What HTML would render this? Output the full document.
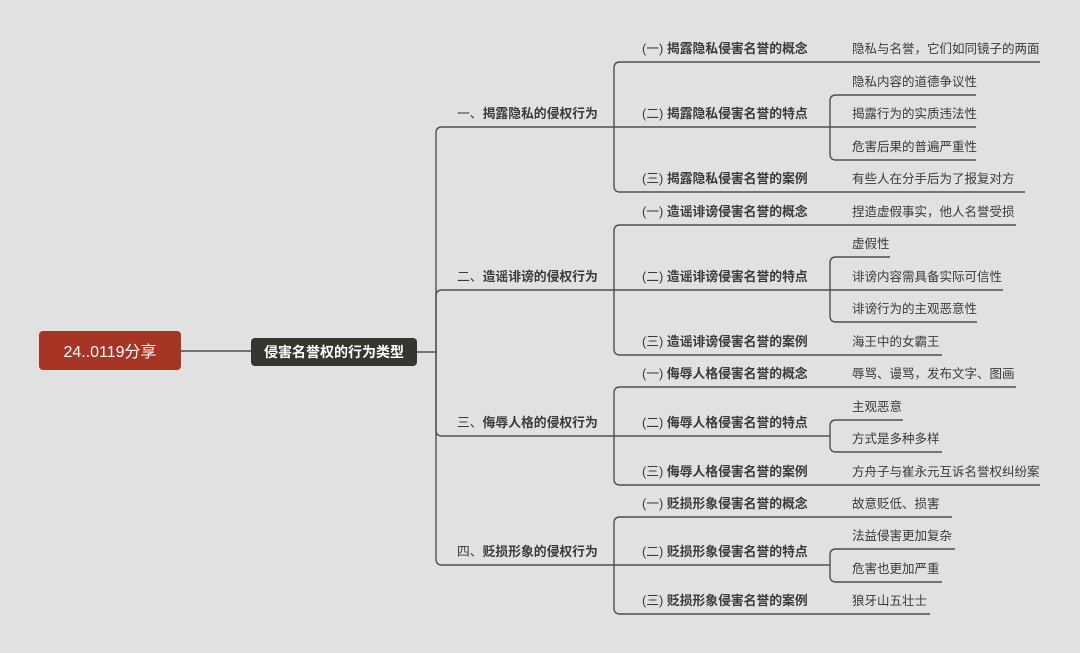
<!DOCTYPE html>
<html><head><meta charset="utf-8"><style>
html,body{margin:0;padding:0;background:#e1e1e1;}
svg{display:block;font-family:"Liberation Sans","Noto Sans CJK SC",sans-serif;}
.l1,.l2{font-size:12.8px;fill:#3a3a3a;}
.b{font-weight:bold;}
.l3{font-size:12.5px;fill:#3a3a3a;}
path{fill:none;stroke:#505050;stroke-width:1.4;}
</style></head><body>
<svg width="1080" height="653" viewBox="0 0 1080 653">
<rect width="1080" height="653" fill="#e1e1e1"/>
<path d="M181 351 H251"/>
<path d="M417 352 H436"/>
<path d="M436 352 V133 Q436 127 442 127 H614"/>
<path d="M436 352 V296 Q436 290 442 290 H614"/>
<path d="M436 352 V430 Q436 436 442 436 H614"/>
<path d="M436 352 V559 Q436 565 442 565 H614"/>
<path d="M614 127 V68 Q614 62 620 62 H1040"/>
<path d="M614 127 H830"/>
<path d="M614 127 V186 Q614 192 620 192 H1025"/>
<path d="M830 127 V101 Q830 95 836 95 H976"/>
<path d="M830 127 H976"/>
<path d="M830 127 V154 Q830 160 836 160 H976"/>
<path d="M614 290 V231 Q614 225 620 225 H1016"/>
<path d="M614 290 H830"/>
<path d="M614 290 V349 Q614 355 620 355 H942"/>
<path d="M830 290 V263 Q830 257 836 257 H890"/>
<path d="M830 290 H1003"/>
<path d="M830 290 V316 Q830 322 836 322 H977"/>
<path d="M614 436 V393 Q614 387 620 387 H1016"/>
<path d="M614 436 H830"/>
<path d="M614 436 V479 Q614 485 620 485 H1040"/>
<path d="M830 436 V426 Q830 420 836 420 H903"/>
<path d="M830 436 V446 Q830 452 836 452 H942"/>
<path d="M614 565 V523 Q614 517 620 517 H952"/>
<path d="M614 565 H830"/>
<path d="M614 565 V608 Q614 614 620 614 H930"/>
<path d="M830 565 V555 Q830 549 836 549 H955"/>
<path d="M830 565 V576 Q830 582 836 582 H942"/>

<rect x="39" y="331" width="142" height="39" rx="4" fill="#a63526"/>
<text x="110" y="357" text-anchor="middle" font-size="16" fill="#fff">24..0119分享</text>
<rect x="251" y="338" width="166" height="28" rx="4" fill="#363631"/>
<text x="334" y="357" text-anchor="middle" font-size="14" font-weight="bold" fill="#fff">侵害名誉权的行为类型</text>

<text class="l1" x="457" y="118">一、<tspan class="b">揭露隐私的侵权行为</tspan></text>
<text class="l1" x="457" y="281">二、<tspan class="b">造谣诽谤的侵权行为</tspan></text>
<text class="l1" x="457" y="427">三、<tspan class="b">侮辱人格的侵权行为</tspan></text>
<text class="l1" x="457" y="556">四、<tspan class="b">贬损形象的侵权行为</tspan></text>

<text class="l2" x="642" y="53">(一) <tspan class="b">揭露隐私侵害名誉的概念</tspan></text>
<text class="l2" x="642" y="118">(二) <tspan class="b">揭露隐私侵害名誉的特点</tspan></text>
<text class="l2" x="642" y="183">(三) <tspan class="b">揭露隐私侵害名誉的案例</tspan></text>
<text class="l2" x="642" y="216">(一) <tspan class="b">造谣诽谤侵害名誉的概念</tspan></text>
<text class="l2" x="642" y="281">(二) <tspan class="b">造谣诽谤侵害名誉的特点</tspan></text>
<text class="l2" x="642" y="346">(三) <tspan class="b">造谣诽谤侵害名誉的案例</tspan></text>
<text class="l2" x="642" y="378">(一) <tspan class="b">侮辱人格侵害名誉的概念</tspan></text>
<text class="l2" x="642" y="427">(二) <tspan class="b">侮辱人格侵害名誉的特点</tspan></text>
<text class="l2" x="642" y="476">(三) <tspan class="b">侮辱人格侵害名誉的案例</tspan></text>
<text class="l2" x="642" y="508">(一) <tspan class="b">贬损形象侵害名誉的概念</tspan></text>
<text class="l2" x="642" y="556">(二) <tspan class="b">贬损形象侵害名誉的特点</tspan></text>
<text class="l2" x="642" y="605">(三) <tspan class="b">贬损形象侵害名誉的案例</tspan></text>

<text class="l3" x="852" y="53">隐私与名誉，它们如同镜子的两面</text>
<text class="l3" x="852" y="86">隐私内容的道德争议性</text>
<text class="l3" x="852" y="118">揭露行为的实质违法性</text>
<text class="l3" x="852" y="151">危害后果的普遍严重性</text>
<text class="l3" x="852" y="183">有些人在分手后为了报复对方</text>
<text class="l3" x="852" y="216">捏造虚假事实，他人名誉受损</text>
<text class="l3" x="852" y="248">虚假性</text>
<text class="l3" x="852" y="281">诽谤内容需具备实际可信性</text>
<text class="l3" x="852" y="313">诽谤行为的主观恶意性</text>
<text class="l3" x="852" y="346">海王中的女霸王</text>
<text class="l3" x="852" y="378">辱骂、谩骂，发布文字、图画</text>
<text class="l3" x="852" y="411">主观恶意</text>
<text class="l3" x="852" y="443">方式是多种多样</text>
<text class="l3" x="852" y="476">方舟子与崔永元互诉名誉权纠纷案</text>
<text class="l3" x="852" y="508">故意贬低、损害</text>
<text class="l3" x="852" y="540">法益侵害更加复杂</text>
<text class="l3" x="852" y="573">危害也更加严重</text>
<text class="l3" x="852" y="605">狼牙山五壮士</text>
</svg>
</body></html>
